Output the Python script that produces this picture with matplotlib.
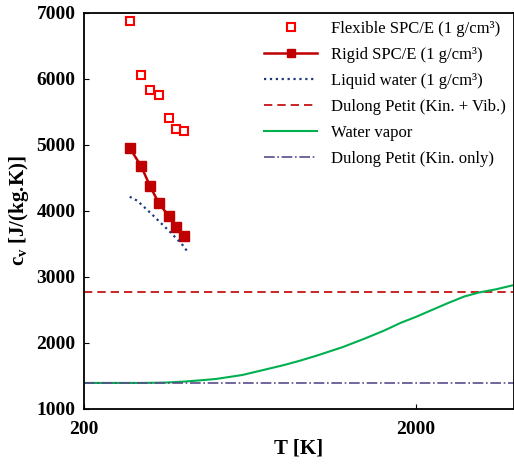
import matplotlib
matplotlib.use("Agg")
import matplotlib.pyplot as plt
from matplotlib.ticker import FixedLocator, NullLocator

plt.rcParams['font.family'] = ['Liberation Serif', 'DejaVu Serif']

T_sim = [275, 298, 316, 336, 360, 380, 400]
cv_flex = [6880, 6060, 5830, 5750, 5410, 5230, 5200]
cv_rigid = [4950, 4670, 4380, 4120, 3920, 3750, 3610]
T_liq = [275, 290, 300, 320, 340, 360, 380, 400, 410]
cv_liq = [4210, 4150, 4080, 3950, 3820, 3700, 3580, 3460, 3380]
T_vap = [200, 250, 300, 350, 400, 450, 500, 600, 700, 800, 900, 1000, 1200, 1400, 1600, 1800, 2000, 2200, 2500, 2800, 3100, 3500, 4000]
cv_vap = [1390, 1390, 1390, 1395, 1410, 1430, 1450, 1510, 1590, 1660, 1730, 1800, 1930, 2060, 2180, 2300, 2390, 2480, 2600, 2700, 2760, 2810, 2880]
dp_vib = 2770
dp_kin = 1390

fig = plt.figure(figsize=(5.14, 4.66), dpi=100)
ax = fig.add_axes([0.163, 0.123, 0.837, 0.85])
ax.set_xscale('log')
ax.plot(T_sim, cv_flex, 's', mfc='white', mec='#ff0000', mew=1.5, ms=6, ls='none', label='Flexible SPC/E (1 g/cm³)')
ax.plot(T_sim, cv_rigid, 's-', color='#c00000', lw=1.8, ms=7, label='Rigid SPC/E (1 g/cm³)')
ax.plot(T_liq, cv_liq, ':', color='#1f3a7a', lw=1.6, label='Liquid water (1 g/cm³)')
ax.axhline(dp_vib, color='#c00000', ls='--', lw=1.2, dashes=(5, 3), label='Dulong Petit (Kin. + Vib.)')
ax.plot(T_vap, cv_vap, '-', color='#00b050', lw=1.5, label='Water vapor')
ax.axhline(dp_kin, color='#5b4b8a', ls='-.', lw=1.2, label='Dulong Petit (Kin. only)')
ax.set_xlim(200, 3950)
ax.set_ylim(1000, 7000)
ax.xaxis.set_major_locator(FixedLocator([200, 2000]))
ax.xaxis.set_minor_locator(NullLocator())
ax.set_xticklabels(['200', '2000'])
ax.set_yticks(range(1000, 7001, 1000))
ax.tick_params(labelsize=14, direction='in')
ax.tick_params(axis='x', pad=9)
ax.tick_params(axis='y', pad=6)
for lab in ax.get_xticklabels() + ax.get_yticklabels():
    lab.set_fontweight('bold')
ax.set_xlabel('T [K]', fontsize=15, fontweight='bold', labelpad=0)
ax.set_ylabel(r'c$_\mathregular{v}$ [J/(kg.K)]', fontsize=15, fontweight='bold')
for s in ax.spines.values():
    s.set_linewidth(1.3)
leg = ax.legend(loc='upper right', frameon=False, fontsize=12, handlelength=3.2, labelspacing=0.6, borderaxespad=0.1, markerscale=0.85)
fig.savefig('out.png', dpi=100)
